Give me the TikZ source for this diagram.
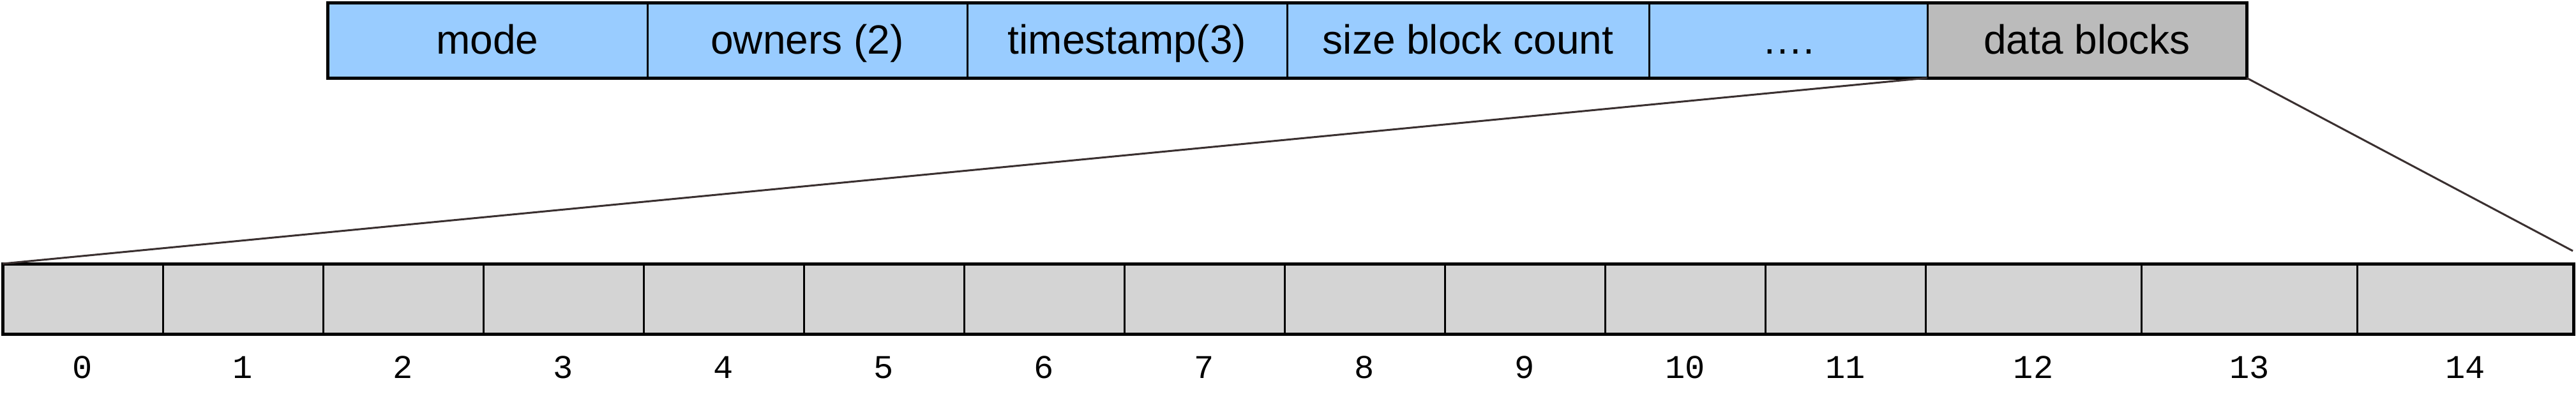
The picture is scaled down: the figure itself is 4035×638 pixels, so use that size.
\documentclass[tikz,border=0pt]{standalone}
\usepackage{fontspec}
\setmainfont{Liberation Sans}
\newfontfamily\digitfont{Liberation Mono}
\definecolor{fieldblue}{HTML}{99CCFF}
\definecolor{datagray}{HTML}{BBBBBB}
\definecolor{blockgray}{HTML}{D4D4D4}
\definecolor{linkline}{HTML}{3A3030}
\begin{document}
\begin{tikzpicture}[x=1pt,y=-1pt,
  field/.style={draw=black, line width=3pt, fill=fieldblue, rectangle, inner sep=0pt, outer sep=0pt,
    minimum height=118pt, font=\fontsize{64}{70}\selectfont},
  blk/.style={draw=black, line width=3pt, fill=blockgray, rectangle, inner sep=0pt, outer sep=0pt,
    minimum height=110pt},
  idx/.style={font=\digitfont\fontsize{52}{56}\selectfont, inner sep=0pt, anchor=base},
  ftext/.style={font=\fontsize{64}{70}\selectfont, inner sep=0pt, anchor=base},
  link/.style={draw=linkline, line width=3pt}]
\useasboundingbox (0,0) rectangle (4035,638);
% top row
\node[field, minimum width=501pt] (mode) at (763.5,63) {};
\node[field, minimum width=501pt] (owners) at (1264.5,63) {};
\node[field, minimum width=501pt] (ts) at (1765.5,63) {};
\node[field, minimum width=567pt] (size) at (2299.5,63) {};
\node[field, minimum width=436pt] (dots) at (2801,63) {};
\node[field, minimum width=500pt, fill=datagray] (data) at (3269,63) {};
\draw[line width=5pt] (mode.north west) rectangle (data.south east);
\node[ftext] (tmode) at (763.5,84) {mode};
\node[ftext] (towners) at (1264.5,84) {owners (2)};
\node[ftext] (tts) at (1765.5,84) {timestamp(3)};
\node[ftext] (tsize) at (2299.5,84) {size block count};
\node[ftext] (tdots) at (2801,84) {….};
\node[ftext] (tdata) at (3269,84) {data blocks};
% bottom row
\foreach \i in {0,...,11} {
  \node[blk, minimum width=251pt] (b\i) at ({4+251*\i+125.5},468) {};
  \node[idx] (n\i) at ({4+251*\i+125.5},592) {\i};
}
\foreach \i in {12,13,14} {
  \node[blk, minimum width=338.33pt] (b\i) at ({3016+338.333*(\i-12)+169.167},468) {};
  \node[idx] (n\i) at ({3016+338.333*(\i-12)+169.167},592) {\i};
}
\draw[line width=5pt] (b0.north west) rectangle (b14.south east);
% connectors
\coordinate (rend) at (4030,393);
\draw[link] (data.south west) -- (b0.north west);
\draw[link] (data.south east) -- (rend);
\end{tikzpicture}
\end{document}
